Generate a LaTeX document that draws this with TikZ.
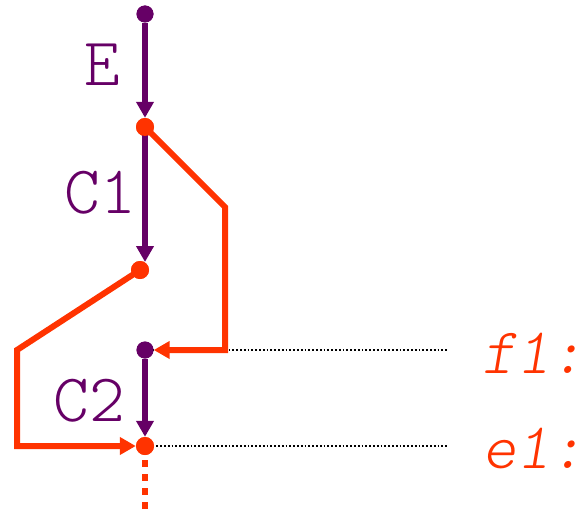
\documentclass[tikz,border=0pt]{standalone}
\usepackage{fontspec}
\newfontfamily\lmlight{lmmonolt10-regular.otf}[ItalicFont=lmmonolt10-oblique.otf,SlantedFont=lmmonolt10-oblique.otf]
\usetikzlibrary{arrows.meta}
\definecolor{pur}{HTML}{660066}
\definecolor{org}{HTML}{FF3300}
\tikzset{
  pdot/.style={circle,fill=pur,inner sep=0pt,minimum size=17pt},
  odot/.style={circle,fill=org,inner sep=0pt,minimum size=18pt},
  pline/.style={draw=pur,line width=6pt,-{Triangle[length=16pt,width=17pt]}},
  oline/.style={draw=org,line width=6pt,-{Triangle[length=16pt,width=17pt]}},
  dotline/.style={draw=black,line width=1.8pt,dotted},
  lbl/.style={font=\lmlight\fontsize{68}{68}\selectfont,text=pur,anchor=base,inner sep=0pt},
  olbl/.style={font=\lmlight\itshape\fontsize{65}{65}\selectfont,text=org,anchor=base west,inner sep=0pt}
}
\begin{document}
\begin{tikzpicture}[x=1pt,y=-1pt]
\useasboundingbox (0,0) rectangle (586,511);
% dot positions
\node[pdot] (top) at (145,14) {};
\node[odot] (a) at (145,127) {};
\node[odot] (b) at (140,270) {};
\node[pdot] (c) at (145,350) {};
\node[odot] (d) at (145,446) {};
\coordinate (btop) at (145,262);
\coordinate (fend) at (447,350);
\coordinate (eend) at (447,446);
\coordinate (bottom) at (145,511);
\coordinate (r1) at (225,207);
\coordinate (r2) at (225,350);
\coordinate (l1) at (17,350);
\coordinate (l2) at (17,446);
% dotted guide lines
\draw[dotline] (c.center) -- (fend);
\draw[dotline] (d.center) -- (eend);
% dashed continuation
\draw[draw=org,line width=6pt,dash pattern=on 7pt off 7pt] (d.center) -- (bottom);
% purple flow
\draw[pline] (top) -- (a);
\draw[pline] (a.center) -- (btop);
\draw[pline] (c) -- (d);
% orange jumps
\draw[oline] (a.center) -- (r1) -- (r2) -- (c);
\draw[oline] (b.center) -- (l1) -- (l2) -- (d);
% dots on top
\node[pdot] at (top) {};
\node[odot] at (a) {};
\node[odot] at (b) {};
\node[pdot] at (c) {};
\node[odot] at (d) {};
% labels
\node[lbl] (lE) at (102,85) {E};
\node[lbl] (lC1) at (100,213) {C1};
\node[lbl] (lC2) at (89,421) {C2};
\node[olbl] (lf1) at (482,373) {f1:};
\node[olbl] (le1) at (482,468) {e1:};
\end{tikzpicture}
\end{document}
